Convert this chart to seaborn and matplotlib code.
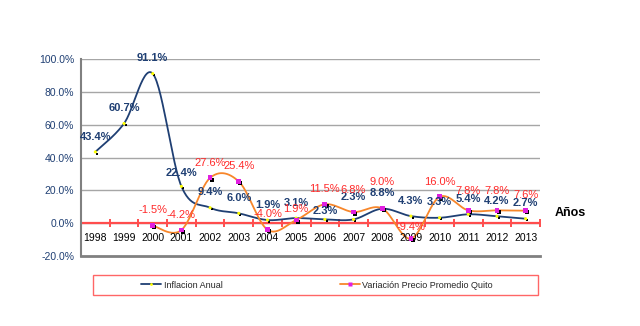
import numpy as np
import pandas as pd
import matplotlib
matplotlib.use("Agg")
import matplotlib.pyplot as plt
import matplotlib.transforms as mtransforms
from matplotlib.patches import Rectangle
from matplotlib.lines import Line2D
import seaborn as sns

# ---- data ----
years = ["1998", "1999", "2000", "2001", "2002", "2003", "2004", "2005",
         "2006", "2007", "2008", "2009", "2010", "2011", "2012", "2013"]
inflacion = [43.4, 60.7, 91.1, 22.4, 9.4, 6.0, 1.9, 3.1,
             2.3, 2.3, 8.8, 4.3, 3.3, 5.4, 4.2, 2.7]
variacion = [np.nan, np.nan, -1.5, -4.2, 27.6, 25.4, -4.0, 1.9,
             11.5, 6.8, 9.0, -9.4, 16.0, 7.8, 7.8, 7.6]
y_ticks = [-20, 0, 20, 40, 60, 80, 100]
series_names = ["Inflacion Anual", "Variación Precio Promedio Quito"]

# label vertical offsets (points) - styling only
infl_label_dy = [11, 11, 11, 10, 11, 11, 11, 11, 6, 16, 11, 11, 11, 11, 11, 11]
var_label_dy = [0, 0, 11, 11, 11, 11, 11, 8, 11, 16, 19, 8, 11, 14, 14, 11]

NAVY = "#1F3F73"
ORANGE = "#F7862A"
RED_TXT = "#FF2A2A"
RED_AX = "#FF4D4D"


def smooth(xs, ys, n=30):
    """Bezier (Excel-like) smoothing of a polyline."""
    xs = np.asarray(xs, float)
    ys = np.asarray(ys, float)
    P = np.column_stack([xs, ys])
    out = []
    k = len(P)
    for i in range(k - 1):
        p0 = P[i - 1] if i > 0 else P[i]
        p1 = P[i]
        p2 = P[i + 1]
        p3 = P[i + 2] if i + 2 < k else P[i + 1]
        c1 = p1 + (p2 - p0) / 6.0
        c2 = p2 - (p3 - p1) / 6.0
        t = np.linspace(0, 1, n)[:, None]
        seg = ((1 - t) ** 3) * p1 + 3 * ((1 - t) ** 2) * t * c1 + 3 * (1 - t) * t ** 2 * c2 + t ** 3 * p2
        if i > 0:
            seg = seg[1:]
        out.append(seg)
    out = np.vstack(out)
    return out[:, 0], out[:, 1]


df = pd.DataFrame({"x": np.arange(len(years)), "year": years,
                   "infl": inflacion, "var": variacion})

sns.set_style("white")
plt.rcParams["font.family"] = ["Liberation Sans", "DejaVu Sans"]

fig = plt.figure(figsize=(6.4, 3.26), dpi=100)
ax = fig.add_axes([81 / 640, 1 - 256 / 326, 459 / 640, 197 / 326])

# grid lines
for yt in y_ticks[1:]:
    ax.axhline(yt, color="#A6A6A6", lw=1.0, zorder=0)

# smoothed curves
sx, sy = smooth(df["x"], df["infl"])
sns.lineplot(x=sx, y=sy, sort=False, estimator=None, color=NAVY, lw=1.3, ax=ax, zorder=3)
dv = df.dropna(subset=["var"])
vx, vy = smooth(dv["x"], dv["var"])
sns.lineplot(x=vx, y=vy, sort=False, estimator=None, color=ORANGE, lw=1.3, ax=ax, zorder=3)

# markers
off = mtransforms.ScaledTranslation(1.2 / 72, -1.2 / 72, fig.dpi_scale_trans)
ax.scatter(df["x"], df["infl"], s=2.5, marker="s", color="black", zorder=4,
           transform=ax.transData + off, linewidths=0)
sns.scatterplot(x=df["x"], y=df["infl"], s=5, color="#FFFF00", edgecolor="none", ax=ax, zorder=5)
ax.scatter(dv["x"], dv["var"], s=8, marker="s", color="black", zorder=4,
           transform=ax.transData + off, linewidths=0)
sns.scatterplot(x=dv["x"], y=dv["var"], s=12, marker="s", color="#E020E0", edgecolor="none", ax=ax, zorder=5)

# zero axis line with ticks
ax.axhline(0, color=RED_AX, lw=1.6, zorder=2)
for b in np.arange(-0.5, len(years), 1.0):
    ax.plot([b, b], [0, 0], marker="|", markersize=6, mew=1.2, color=RED_AX, zorder=2)

# data labels
for i, (x, v) in enumerate(zip(df["x"], inflacion)):
    ax.annotate(f"{v:.1f}%", (x, v), xytext=(0, infl_label_dy[i]), textcoords="offset points",
                ha="center", va="center", fontsize=8, fontweight="bold", color=NAVY,
                zorder=6, annotation_clip=False)
for i, (x, v) in enumerate(zip(df["x"], variacion)):
    if np.isnan(v):
        continue
    ax.annotate(f"{v:.1f}%", (x, v), xytext=(0, var_label_dy[i]), textcoords="offset points",
                ha="center", va="center", fontsize=8, color=RED_TXT, zorder=6,
                annotation_clip=False)

# year labels just below the zero line
for x, yr in zip(df["x"], years):
    ax.annotate(yr, (x, 0), xytext=(0, -11), textcoords="offset points",
                ha="center", va="center", fontsize=7.5, color="black")

ax.text(1.065, 6, "Años", transform=mtransforms.blended_transform_factory(ax.transAxes, ax.transData),
        ha="center", va="center", fontsize=9, fontweight="bold", color="black")

ax.set_xlim(-0.5, len(years) - 0.5)
ax.set_ylim(-20, 100)
ax.set_yticks(y_ticks)
ax.set_yticklabels([f"{t:.1f}%" for t in y_ticks], color=NAVY, fontsize=7.5)
ax.tick_params(axis="y", length=3, color="#808080", pad=2)
ax.set_xticks([])
ax.set_xlabel("")
ax.set_ylabel("")
for s in ["top", "right"]:
    ax.spines[s].set_visible(False)
ax.spines["left"].set_color("#808080")
ax.spines["left"].set_linewidth(1.5)
ax.spines["bottom"].set_color("#808080")
ax.spines["bottom"].set_linewidth(2)

# legend box
fig.patches.append(Rectangle((93 / 640, 1 - 295 / 326), 445 / 640, 20 / 326,
                             transform=fig.transFigure, fill=False, edgecolor="#FF6666", lw=1.0))
handles = [Line2D([], [], color=NAVY, lw=1.3, marker="o", markersize=2,
                  markerfacecolor="#FFFF00", markeredgecolor="none"),
           Line2D([], [], color=ORANGE, lw=1.3, marker="s", markersize=3,
                  markerfacecolor="#E020E0", markeredgecolor="none")]
fig.legend(handles, series_names, loc="center", bbox_to_anchor=(317 / 640, 1 - 285 / 326),
           ncol=2, frameon=False, fontsize=6.5, handlelength=2.2, handletextpad=0.3,
           columnspacing=13)

fig.savefig("out.png", dpi=100)
